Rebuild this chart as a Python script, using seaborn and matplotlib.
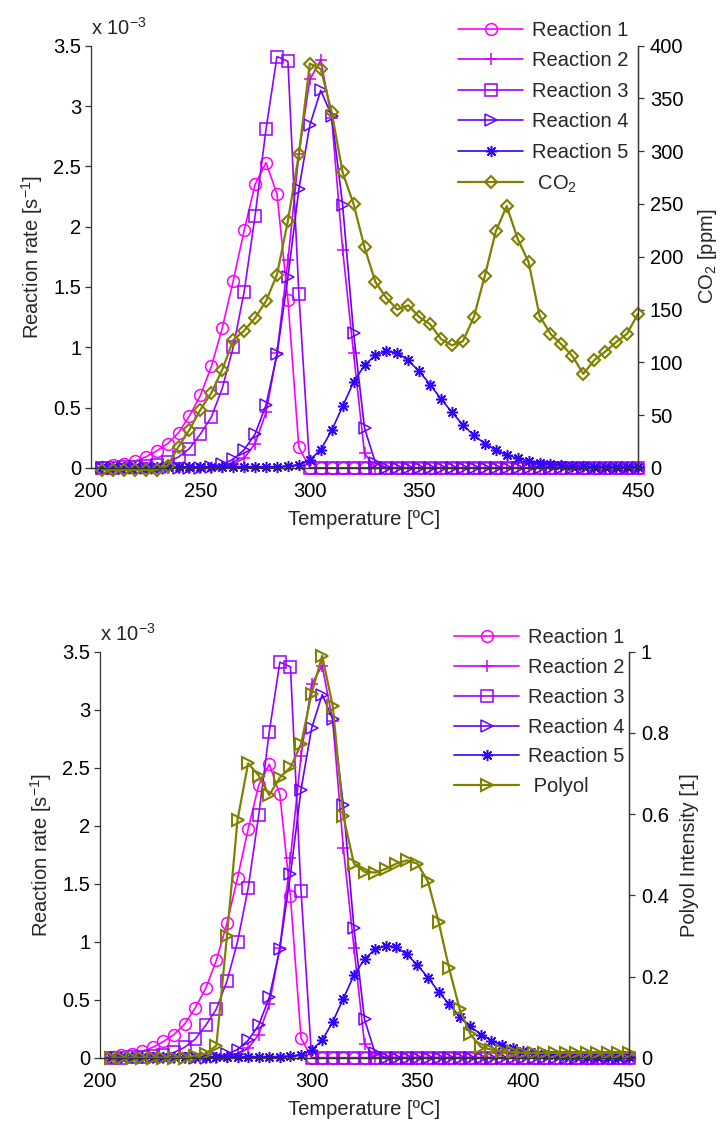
import matplotlib
matplotlib.use("Agg")
import matplotlib.pyplot as plt
import seaborn as sns
import pandas as pd
from matplotlib.ticker import FuncFormatter

# ---------------- data ----------------
temperature = list(range(205, 451, 5))  # ºC

# reaction rates in units of 1e-3 s^-1
reaction_1 = [0.01, 0.02, 0.035, 0.055, 0.09, 0.14, 0.20, 0.29, 0.43, 0.60,
              0.84, 1.16, 1.55, 1.97, 2.35, 2.53, 2.27, 1.39, 0.17] + [0.0] * 31
reaction_2 = [0.0] * 11 + [0.01, 0.03, 0.08, 0.20, 0.46, 0.95, 1.72, 2.60, 3.22,
                           3.38, 2.90, 1.81, 0.95, 0.12] + [0.0] * 25
reaction_3 = [0.0, 0.0, 0.005, 0.01, 0.015, 0.025, 0.045, 0.09, 0.16, 0.28,
              0.42, 0.66, 1.00, 1.46, 2.09, 2.81, 3.41, 3.37, 1.44] + [0.0] * 31
reaction_4 = [0.0] * 10 + [0.01, 0.03, 0.07, 0.15, 0.28, 0.52, 0.94, 1.58, 2.31,
                           2.84, 3.13, 2.92, 2.18, 1.12, 0.33, 0.04] + [0.0] * 24
reaction_5 = [0.01] * 17 + [0.015, 0.025, 0.065, 0.15, 0.31, 0.51, 0.71, 0.85,
                            0.935, 0.965, 0.955, 0.89, 0.80, 0.69, 0.57, 0.46,
                            0.355, 0.27, 0.20, 0.148, 0.106, 0.08, 0.056, 0.04,
                            0.03, 0.022, 0.016, 0.012] + [0.01] * 5

co2_ppm = [-2, -2, -2, -2, -2, -2, 2, 20, 36, 55, 71, 93, 121, 130, 142, 158,
           183, 234, 297, 383, 378, 337, 280, 250, 209, 176, 161, 150, 154,
           143, 136, 122, 116, 120, 143, 182, 224, 248, 217, 195, 144, 127,
           117, 106, 89, 102, 110, 119, 127, 146]

polyol_intensity = [0.0, 0.0, 0.0, 0.0, 0.0, 0.0, 0.0, 0.0, 0.005, 0.01, 0.03,
                    0.30, 0.586, 0.725, 0.695, 0.647, 0.69, 0.715, 0.772, 0.897,
                    0.99, 0.866, 0.595, 0.478, 0.458, 0.456, 0.465, 0.478,
                    0.486, 0.478, 0.434, 0.335, 0.22, 0.119, 0.058, 0.026,
                    0.02, 0.016, 0.014, 0.012, 0.012, 0.012, 0.012, 0.012,
                    0.012, 0.012, 0.012, 0.012, 0.012, 0.012]

reaction_labels = ["Reaction 1", "Reaction 2", "Reaction 3", "Reaction 4", "Reaction 5"]
reaction_colors = ["#FF00FF", "#CC00FF", "#9900FF", "#6600FF", "#3300FF"]
reaction_markers = ["o", "+", "s", ">", (8, 2, 0)]
reaction_msizes = [8.5, 9, 8, 8.5, 8]
olive = "#808000"

x_ticks = [200, 250, 300, 350, 400, 450]
left_ticks = [0, 0.5, 1, 1.5, 2, 2.5, 3, 3.5]
co2_ticks = [0, 50, 100, 150, 200, 250, 300, 350, 400]
polyol_ticks = [0, 0.2, 0.4, 0.6, 0.8, 1]

# ---------------- style ----------------
sns.set_style("white")
plt.rcParams["font.family"] = ["Liberation Sans", "DejaVu Sans"]
plt.rcParams["mathtext.fontset"] = "custom"
plt.rcParams["mathtext.rm"] = "Liberation Sans"
plt.rcParams["mathtext.it"] = "Liberation Sans"
plt.rcParams["mathtext.bf"] = "Liberation Sans"
FS = 14.5
plt.rcParams["font.size"] = FS
plt.rcParams["axes.labelsize"] = FS
plt.rcParams["xtick.labelsize"] = FS
plt.rcParams["ytick.labelsize"] = FS
plt.rcParams["legend.fontsize"] = FS

reactions = [reaction_1, reaction_2, reaction_3, reaction_4, reaction_5]
fmt = FuncFormatter(lambda v, p: "%g" % v)
spine_col = "#333333"


def style_axis(ax):
    for s in ax.spines.values():
        s.set_color(spine_col)
        s.set_linewidth(0.9)
    ax.spines["top"].set_visible(False)
    ax.tick_params(direction="out", length=4, width=0.9, color=spine_col,
                   pad=3, labelcolor="black")
    ax.tick_params(axis="x", pad=6.5)


def panel(rect, right_values, right_label, right_marker, right_msize,
          right_ticks, right_lim, right_name, legend_xy, labelspacing, rpad):
    ax = fig.add_axes(rect)
    handles = []
    for vals, lab, col, mk, ms in zip(reactions, reaction_labels, reaction_colors,
                                      reaction_markers, reaction_msizes):
        df = pd.DataFrame({"T": temperature, "v": vals})
        sns.lineplot(data=df, x="T", y="v", ax=ax, color=col, marker=mk,
                     markersize=ms, markerfacecolor="none", markeredgecolor=col,
                     markeredgewidth=1.1, linewidth=1.2, clip_on=False,
                     label=lab, legend=False)
        handles.append(ax.lines[-1])
    ax.set_xlim(200, 450)
    ax.set_ylim(0, 3.5)
    ax.set_xticks(x_ticks)
    ax.set_yticks(left_ticks)
    ax.yaxis.set_major_formatter(fmt)
    ax.set_xlabel("Temperature [ºC]", labelpad=6.5)
    ax.set_ylabel(r"Reaction rate [s$^{-1}$]", labelpad=6)
    ax.annotate(r"x 10$^{-3}$", xy=(0, 1), xycoords="axes fraction",
                xytext=(0, 5), textcoords="offset points", ha="left", va="bottom",
                fontsize=FS)
    style_axis(ax)

    ax2 = ax.twinx()
    df2 = pd.DataFrame({"T": temperature, "v": right_values})
    sns.lineplot(data=df2, x="T", y="v", ax=ax2, color=olive, marker=right_marker,
                 markersize=right_msize, markerfacecolor="none",
                 markeredgecolor=olive, markeredgewidth=1.5, linewidth=1.6,
                 clip_on=False, label=right_name, legend=False)
    handles.append(ax2.lines[-1])
    ax2.set_ylim(*right_lim)
    ax2.set_yticks(right_ticks)
    ax2.yaxis.set_major_formatter(fmt)
    ax2.set_ylabel(right_label, labelpad=rpad)
    ax2.set_xlim(200, 450)
    style_axis(ax2)
    ax2.tick_params(axis="y", pad=4.5)
    ax2.spines["left"].set_visible(False)

    labels = reaction_labels + [right_name]
    ax2.legend(handles, labels, loc="upper left",
               bbox_to_anchor=(legend_xy[0] / 726, 1 - legend_xy[1] / 1122),
               bbox_transform=fig.transFigure, frameon=False, numpoints=1,
               borderpad=0, borderaxespad=0, handlelength=3.25,
               handletextpad=0.4, labelspacing=labelspacing)
    return ax, ax2


fig = plt.figure(figsize=(7.26, 11.22), dpi=100)
fig.patch.set_facecolor("white")

panel([91 / 726, 1 - 467.8 / 1122, 547 / 726, 422.1 / 1122],
      co2_ppm, r"CO$_2$ [ppm]", "D", 6.3, co2_ticks, (0, 400), r" CO$_2$",
      (458, 21), 0.57, 9)

panel([100 / 726, 1 - 1057.7 / 1122, 529 / 726, 406 / 1122],
      polyol_intensity, "Polyol Intensity [1]", ">", 8.5, polyol_ticks, (0, 1),
      " Polyol", (454, 628), 0.54, 8)

fig.savefig("out.png", dpi=100, facecolor="white")
